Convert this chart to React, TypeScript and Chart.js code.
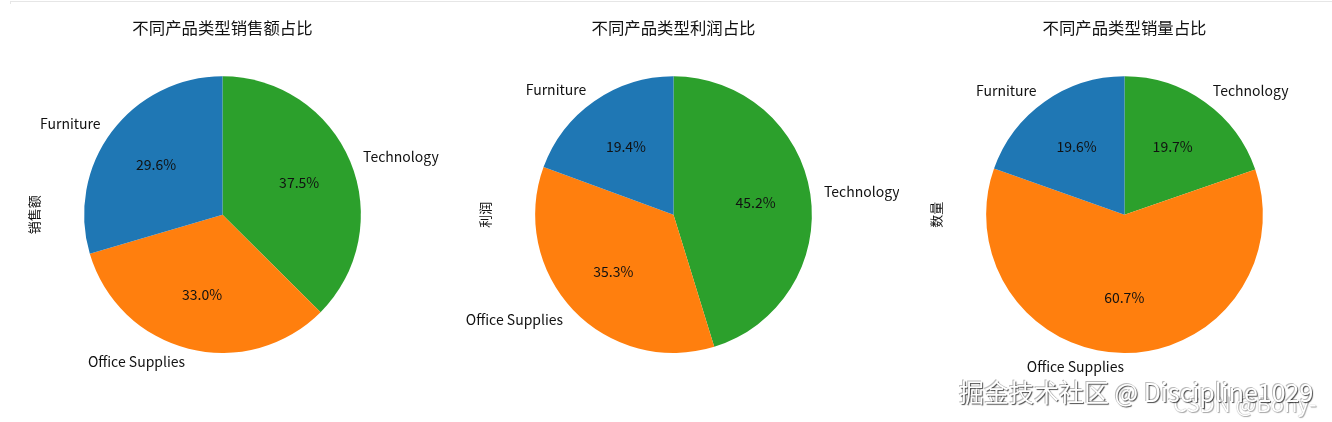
import React, { useEffect, useRef } from 'react';
import { Chart, registerables, Plugin } from 'chart.js';

Chart.register(...registerables);

const categories = ['Furniture', 'Office Supplies', 'Technology'];
const salesShare = [29.6, 33.0, 37.5];
const profitShare = [19.4, 35.3, 45.2];
const quantityShare = [19.6, 60.7, 19.7];
const sliceColors = ['#1f77b4', '#ff7f0e', '#2ca02c'];

const FONT = '"Noto Sans CJK SC", "Noto Sans", sans-serif';
const TEXT_COLOR = '#111';

// draws slice names, percentages and the rotated axis label the way matplotlib's pie does
const pieText = (yLabel: string): Plugin<'pie'> => ({
  id: 'pieText',
  afterDatasetsDraw(chart) {
    const ctx = chart.ctx;
    const meta = chart.getDatasetMeta(0);
    const values = chart.data.datasets[0].data as number[];
    const total = values.reduce((a, b) => a + b, 0);
    const labels = chart.data.labels as string[];
    let cx = 0;
    let cy = 0;
    let r = 0;

    ctx.save();
    ctx.fillStyle = TEXT_COLOR;
    ctx.textBaseline = 'middle';
    meta.data.forEach((el, i) => {
      const { x, y, startAngle, endAngle, outerRadius } = (el as any).getProps(
        ['x', 'y', 'startAngle', 'endAngle', 'outerRadius'],
        true
      );
      cx = x;
      cy = y;
      r = outerRadius;
      const mid = (startAngle + endAngle) / 2;
      const c = Math.cos(mid);
      const s = Math.sin(mid);

      ctx.font = `14px ${FONT}`;
      ctx.textAlign = Math.abs(c) < 1e-9 ? 'center' : c > 0 ? 'left' : 'right';
      ctx.fillText(labels[i], x + c * r * 1.1, y + s * r * 1.1);

      ctx.textAlign = 'center';
      ctx.fillText(((values[i] / total) * 100).toFixed(1) + '%', x + c * r * 0.6, y + s * r * 0.6);
    });

    ctx.font = `13px ${FONT}`;
    ctx.translate(cx - r - 50, cy);
    ctx.rotate(-Math.PI / 2);
    ctx.textAlign = 'center';
    ctx.fillText(yLabel, 0, 0);
    ctx.restore();
  },
});

interface PieProps {
  title: string;
  yLabel: string;
  values: number[];
  left: number;
}

const SharePie: React.FC<PieProps> = ({ title, yLabel, values, left }) => {
  const chartRef = useRef<HTMLCanvasElement | null>(null);
  const chartInstanceRef = useRef<Chart<'pie'> | null>(null);

  useEffect(() => {
    if (!chartRef.current) return;
    const ctx = chartRef.current.getContext('2d');
    if (!ctx) return;

    if (chartInstanceRef.current) {
      chartInstanceRef.current.destroy();
    }

    // matplotlib goes counter-clockwise from the top, Chart.js clockwise: reverse the order
    chartInstanceRef.current = new Chart(ctx, {
      type: 'pie',
      data: {
        labels: [...categories].reverse(),
        datasets: [
          {
            data: [...values].reverse(),
            backgroundColor: [...sliceColors].reverse(),
            borderWidth: 0,
          },
        ],
      },
      options: {
        animation: false,
        responsive: false,
        events: [],
        layout: { padding: { top: 0, bottom: 69, left: 80, right: 80 } },
        plugins: {
          legend: { display: false },
          tooltip: { enabled: false },
          title: {
            display: true,
            text: title,
            color: TEXT_COLOR,
            font: { family: FONT, size: 16.4, weight: 'normal' },
            padding: { top: 18, bottom: 38.6 },
          },
        },
      },
      plugins: [pieText(yLabel)],
    });

    return () => {
      if (chartInstanceRef.current) {
        chartInstanceRef.current.destroy();
        chartInstanceRef.current = null;
      }
    };
  }, [title, yLabel, values]);

  return (
    <canvas
      ref={chartRef}
      width={451}
      height={422}
      style={{ position: 'absolute', left, top: 0, width: 451, height: 422 }}
    />
  );
};

const App: React.FC = () => {
  useEffect(() => {
    document.body.style.margin = '0';
  }, []);

  return (
    <div
      style={{
        position: 'relative',
        width: 1332,
        height: 422,
        overflow: 'hidden',
        background: '#fff',
        fontFamily: FONT,
      }}
    >
      <div
        style={{
          position: 'absolute',
          left: 10,
          top: 0,
          right: 0,
          height: 3,
          borderTop: '1px solid #e6e6e6',
          borderLeft: '1px solid #e6e6e6',
          boxSizing: 'border-box',
          marginTop: 1,
        }}
      />
      <SharePie title="不同产品类型销售额占比" yLabel="销售额" values={salesShare} left={-3.5} />
      <SharePie title="不同产品类型利润占比" yLabel="利润" values={profitShare} left={448} />
      <SharePie title="不同产品类型销量占比" yLabel="数量" values={quantityShare} left={898.5} />
      <div
        style={{
          position: 'absolute',
          left: 1173,
          top: 391,
          fontSize: 22,
          lineHeight: 1,
          color: '#fff',
          whiteSpace: 'nowrap',
          textShadow: '0 0 1px #888, 1px 1px 1px #aaa',
        }}
      >
        CSDN @Bony-
      </div>
      <div
        style={{
          position: 'absolute',
          left: 959,
          top: 379,
          fontSize: 25,
          lineHeight: 1,
          color: '#fff',
          whiteSpace: 'nowrap',
          textShadow: '1px 1px 1px rgba(0,0,0,0.7), -1px -1px 0 rgba(120,120,120,0.5)',
        }}
      >
        掘金技术社区 @ Discipline1029
      </div>
    </div>
  );
};

export default App;
